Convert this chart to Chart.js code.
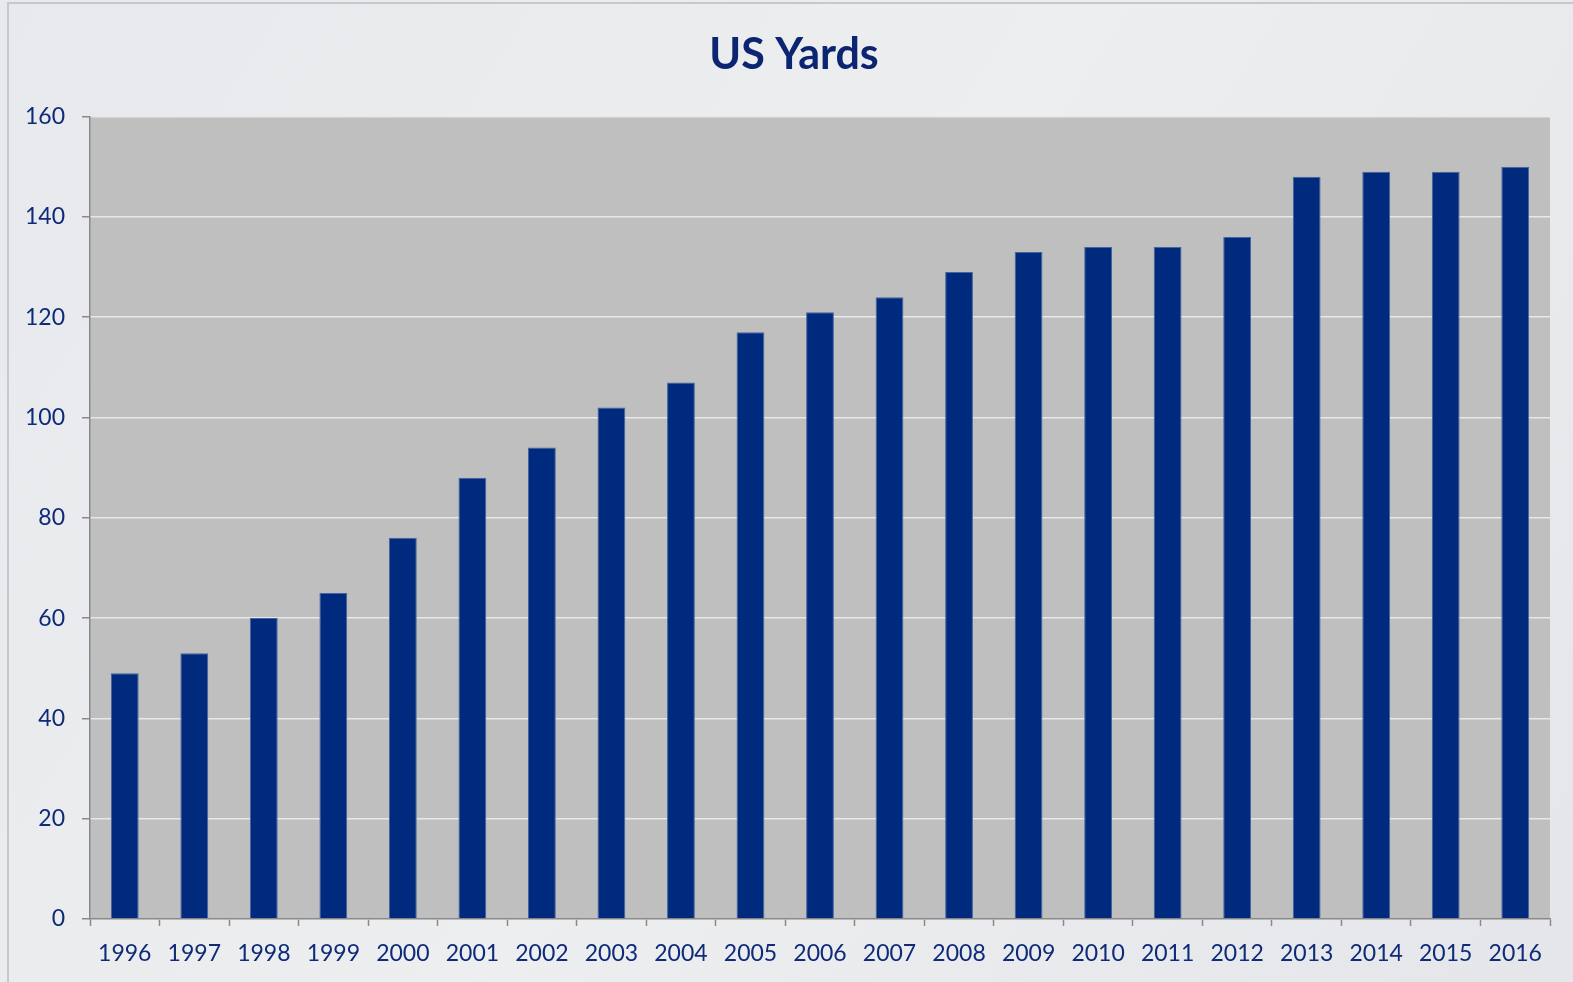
<!DOCTYPE html>
<html>
<head>
<meta charset="utf-8">
<script src="https://cdn.jsdelivr.net/npm/chart.js@4.4.0/dist/chart.umd.min.js"></script>
<style>
html,body{margin:0;padding:0;background:#eaecef;}
#wrap{position:relative;width:1573px;height:982px;}
</style>
</head>
<body>
<div id="wrap"><canvas id="c" width="1573" height="982"></canvas></div>
<script>
const categories = ['1996','1997','1998','1999','2000','2001','2002','2003','2004','2005','2006','2007','2008','2009','2010','2011','2012','2013','2014','2015','2016'];
const yardValues = [49,53,60,65,76,88,94,102,107,117,121,124,129,133,134,134,136,148,149,149,150];
const yTicks = [0,20,40,60,80,100,120,140,160];

const bgPlugin = {
  id: 'bg',
  afterLayout(chart) {
    if (chart.titleBlock) { chart.titleBlock.left = 38; }
  },
  beforeDraw(chart) {
    const {ctx, chartArea: a, width, height} = chart;
    ctx.save();
    const g = ctx.createLinearGradient(0, 0, width, height);
    g.addColorStop(0, '#e7e9ec');
    g.addColorStop(0.5, '#eceef0');
    g.addColorStop(1, '#e4e6e9');
    ctx.fillStyle = g;
    ctx.fillRect(0, 0, width, height);
    ctx.strokeStyle = '#c6c8cb';
    ctx.lineWidth = 2;
    ctx.beginPath();
    ctx.moveTo(8, height);
    ctx.lineTo(8, 3);
    ctx.lineTo(width, 3);
    ctx.stroke();
    ctx.fillStyle = '#bfbfbf';
    ctx.fillRect(a.left, a.top, a.right - a.left, a.bottom - a.top);
    ctx.restore();
  }
};

new Chart(document.getElementById('c'), {
  type: 'bar',
  data: {
    labels: categories,
    datasets: [{
      label: 'US Yards',
      data: yardValues,
      backgroundColor: '#002a7e',
      borderColor: '#4563a0',
      borderWidth: 1,
      barPercentage: 0.4,
      categoryPercentage: 1.0
    }]
  },
  options: {
    responsive: false,
    animation: false,
    layout: { padding: { left: 0, right: 23, top: 0, bottom: 0 } },
    plugins: {
      legend: { display: false },
      tooltip: { enabled: false },
      title: {
        display: true,
        text: 'US Yards',
        color: '#0b2572',
        font: { family: 'Lato', size: 43, weight: 'bold' },
        padding: { top: 29, bottom: 36 }
      }
    },
    scales: {
      x: {
        offset: true,
        grid: { display: true, offset: true, drawOnChartArea: false, tickLength: 7, tickColor: '#8a8a8a', tickWidth: 1.5 },
        border: { display: true, color: '#8a8a8a', width: 1.5 },
        ticks: { color: '#0e2a78', font: { family: 'Lato', size: 23 }, padding: 14, maxRotation: 0, autoSkip: false },
        afterFit(s) { s.height = 63; }
      },
      y: {
        min: 0, max: 160,
        afterBuildTicks(s) { s.ticks = yTicks.map(v => ({value: v})); },
        grid: { color: '#e8e8e8', lineWidth: 1.5, tickLength: 8, tickColor: '#8a8a8a', tickWidth: 1.5 },
        border: { display: true, color: '#8a8a8a', width: 1.5 },
        ticks: { color: '#0e2a78', font: { family: 'Lato', size: 23 }, padding: 17 },
        afterFit(s) { s.width = 90; }
      }
    }
  },
  plugins: [bgPlugin]
});
</script>
</body>
</html>
